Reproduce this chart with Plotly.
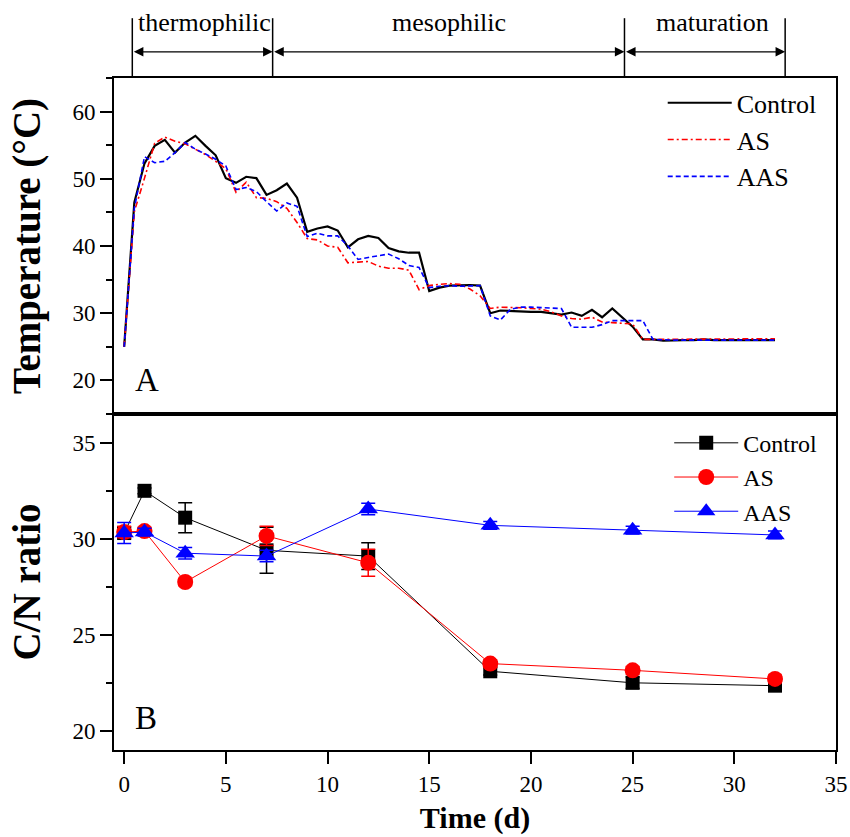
import plotly.graph_objects as go

FONT = "Liberation Serif, Times New Roman, serif"

# ---------------- Temperature data (panel A) ----------------
time_d = [0, 0.5, 1, 1.5, 2, 2.5, 3, 3.5, 4, 4.5, 5, 5.5, 6, 6.5, 7, 7.5, 8, 8.5,
          9, 9.5, 10, 10.5, 11, 11.5, 12, 12.5, 13, 13.5, 14, 14.5, 15, 15.5, 16,
          16.5, 17, 17.5, 18, 18.5, 19, 19.5, 20, 20.5, 21, 21.5, 22, 22.5, 23,
          23.5, 24, 24.5, 25, 25.5, 26, 26.5, 27, 27.5, 28, 28.5, 29, 29.5, 30,
          30.5, 31, 31.5, 32]

temp_control = [25.0, 46.5, 52.3, 54.9, 55.8, 53.9, 55.4, 56.4, 54.9, 53.5, 50.1, 49.4,
                50.3, 50.1, 47.6, 48.3, 49.3, 47.2, 42.1, 42.6, 42.9, 42.3, 39.8, 41.0,
                41.5, 41.2, 39.7, 39.2, 39.0, 39.0, 33.3, 33.8, 34.1, 34.2, 34.2, 34.1,
                30.0, 30.4, 30.3, 30.2, 30.2, 30.2, 30.0, 29.8, 30.1, 29.6, 30.5, 29.4,
                30.7, 29.3, 28.0, 26.1, 26.1, 25.9, 26.0, 26.0, 26.0, 26.1, 26.0, 26.0,
                26.0, 26.0, 26.0, 26.0, 26.0]

temp_as = [25.0, 45.1, 50.1, 55.3, 56.2, 55.6, 55.2, 54.4, 53.6, 52.6, 51.5, 48.0,
           49.5, 47.2, 47.1, 46.6, 45.6, 43.5, 41.1, 40.9, 40.0, 39.8, 37.5, 37.6,
           37.7, 37.0, 36.7, 36.7, 36.4, 33.5, 34.1, 34.3, 34.4, 34.3, 33.6, 32.6,
           30.7, 30.9, 30.9, 30.8, 30.7, 30.6, 30.2, 29.6, 29.2, 29.1, 29.4, 28.7,
           28.6, 28.5, 28.4, 26.1, 26.1, 26.2, 26.2, 26.2, 26.2, 26.2, 26.2, 26.2,
           26.2, 26.2, 26.2, 26.2, 26.2]

temp_aas = [25.0, 45.6, 53.3, 52.4, 52.6, 53.9, 55.4, 54.4, 53.7, 52.9, 51.9, 48.4,
            48.7, 48.1, 46.6, 45.2, 46.4, 45.9, 41.4, 41.9, 41.5, 41.5, 40.0, 38.0,
            38.3, 38.5, 38.8, 38.1, 37.1, 36.8, 33.8, 34.0, 34.1, 34.0, 34.0, 34.1,
            29.6, 29.0, 30.6, 30.9, 30.9, 30.8, 30.7, 30.7, 27.9, 27.9, 27.9, 28.3,
            28.9, 28.9, 28.9, 28.9, 26.1, 26.0, 26.0, 26.0, 26.0, 26.0, 26.0, 26.0,
            26.0, 26.0, 26.0, 26.0, 26.0]

# ---------------- C/N ratio data (panel B) ----------------
cn_days = [0, 1, 3, 7, 12, 18, 25, 32]
cn_control = [30.3, 32.5, 31.1, 29.4, 29.1, 23.1, 22.5, 22.35]
cn_control_err = [0.3, 0.15, 0.78, 1.2, 0.7, 0.2, 0.3, 0.2]
cn_as = [30.35, 30.4, 27.75, 30.15, 28.75, 23.5, 23.15, 22.7]
cn_as_err = [0.3, 0.2, 0.2, 0.5, 0.7, 0.2, 0.2, 0.2]
cn_aas = [30.3, 30.35, 29.25, 29.1, 31.55, 30.7, 30.45, 30.2]
cn_aas_err = [0.55, 0.2, 0.3, 0.3, 0.3, 0.2, 0.2, 0.2]

# ---------------- Phases ----------------
phase_bounds = [0.4, 7.3, 24.6, 32.5]
phase_names = ["thermophilic", "mesophilic", "maturation"]
phase_label_x = [3.95, 15.95, 28.95]

fig = go.Figure()

# Panel A lines
fig.add_trace(go.Scatter(x=time_d, y=temp_control, mode="lines", name="Control",
                         line=dict(color="black", width=2.2), xaxis="x2", yaxis="y",
                         legend="legend"))
fig.add_trace(go.Scatter(x=time_d, y=temp_as, mode="lines", name="AS",
                         line=dict(color="#ff0000", width=1.6, dash="6px,3px,2px,3px"),
                         xaxis="x2", yaxis="y", legend="legend"))
fig.add_trace(go.Scatter(x=time_d, y=temp_aas, mode="lines", name="AAS",
                         line=dict(color="#0000ff", width=1.6, dash="5px,3px"),
                         xaxis="x2", yaxis="y", legend="legend"))

# Panel B lines + markers
fig.add_trace(go.Scatter(x=cn_days, y=cn_control, mode="lines+markers", name="Control",
                         line=dict(color="black", width=1),
                         marker=dict(symbol="square", size=14, color="black"),
                         error_y=dict(type="data", array=cn_control_err, color="black",
                                      thickness=1.5, width=7),
                         xaxis="x", yaxis="y2", legend="legend2"))
fig.add_trace(go.Scatter(x=cn_days, y=cn_as, mode="lines+markers", name="AS",
                         line=dict(color="#ff0000", width=1),
                         marker=dict(symbol="circle", size=16, color="#ff0000"),
                         error_y=dict(type="data", array=cn_as_err, color="#ff0000",
                                      thickness=1.5, width=7),
                         xaxis="x", yaxis="y2", legend="legend2"))
fig.add_trace(go.Scatter(x=cn_days, y=cn_aas, mode="lines+markers", name="AAS",
                         line=dict(color="#0000ff", width=1),
                         marker=dict(symbol="triangle-up", size=17, color="#0000ff"),
                         error_y=dict(type="data", array=cn_aas_err, color="#0000ff",
                                      thickness=1.5, width=7),
                         xaxis="x", yaxis="y2", legend="legend2"))

axis_common = dict(showline=True, linewidth=2, linecolor="black", mirror=True,
                   showgrid=False, zeroline=False, automargin=False,
                   tickfont=dict(family=FONT, size=23, color="black"))

fig.update_layout(
    width=850, height=837,
    margin=dict(l=114, r=14, t=78, b=87),
    paper_bgcolor="white", plot_bgcolor="white",
    font=dict(family=FONT, color="black"),
    xaxis=dict(domain=[0, 1], anchor="y2", range=[-0.5, 35], tick0=0, dtick=5,
               ticks="outside", ticklen=12, tickwidth=2, tickcolor="black",
               title=dict(text="<b>Time (d)</b>", font=dict(family=FONT, size=30),
                          standoff=11),
               **axis_common),
    xaxis2=dict(domain=[0, 1], anchor="y", matches="x", showticklabels=False,
                ticks="", **axis_common),
    yaxis=dict(domain=[0.5, 1], anchor="x2", range=[15, 65], tick0=20, dtick=10,
               ticks="outside", ticklen=12, tickwidth=2, tickcolor="black",
               minor=dict(dtick=5, tick0=15, ticks="outside", ticklen=6, tickwidth=2,
                          tickcolor="black"),
               title=dict(text="<b>Temperature (°C)</b>",
                          font=dict(family=FONT, size=39), standoff=20),
               **axis_common),
    yaxis2=dict(domain=[0, 0.5], anchor="x", range=[19, 36.5], tick0=20, dtick=5,
                ticks="outside", ticklen=12, tickwidth=2, tickcolor="black",
                minor=dict(dtick=2.5, tick0=20, ticks="outside", ticklen=6, tickwidth=2,
                           tickcolor="black"),
                title=dict(text="<b>C/N ratio</b>", font=dict(family=FONT, size=39),
                           standoff=20),
                **axis_common),
    legend=dict(x=0.760, xanchor="left", y=0.998, yanchor="top",
                bgcolor="rgba(0,0,0,0)", font=dict(family=FONT, size=26),
                itemwidth=64, tracegroupgap=0),
    legend2=dict(x=0.769, xanchor="left", y=0.49, yanchor="top",
                 bgcolor="rgba(0,0,0,0)", font=dict(family=FONT, size=24),
                 itemwidth=64, tracegroupgap=0),
)

# phase boundary lines
for b in phase_bounds:
    fig.add_shape(type="line", xref="x", yref="paper", x0=b, x1=b, y0=1.0, y1=1.089,
                  line=dict(color="black", width=1.5))

# double-headed arrows between bounds
for i in range(len(phase_bounds) - 1):
    fig.add_annotation(x=phase_bounds[i + 1], y=1.039, xref="x", yref="paper",
                       ax=phase_bounds[i], ay=0, axref="x", ayref="pixel",
                       text="", showarrow=True, arrowside="end+start",
                       arrowhead=2, arrowsize=1.6, arrowwidth=1.2,
                       arrowcolor="black", standoff=0, startstandoff=0)

for name, lx in zip(phase_names, phase_label_x):
    fig.add_annotation(x=lx, y=1.083, xref="x", yref="paper", text=name,
                       showarrow=False, yanchor="middle",
                       font=dict(family=FONT, size=26, color="black"))

# panel letters
fig.add_annotation(x=0.026, xref="paper", y=0.55, yref="paper", text="A",
                   showarrow=False, xanchor="left", yanchor="middle",
                   font=dict(family=FONT, size=33, color="black"))
fig.add_annotation(x=0.026, xref="paper", y=0.048, yref="paper", text="B",
                   showarrow=False, xanchor="left", yanchor="middle",
                   font=dict(family=FONT, size=33, color="black"))

fig.write_html(
    "out.html",
    config={"displayModeBar": False},
    post_script=("document.body.style.margin='0px';"
                 "document.documentElement.style.overflow='hidden';"
                 "document.body.style.overflow='hidden';"),
)
